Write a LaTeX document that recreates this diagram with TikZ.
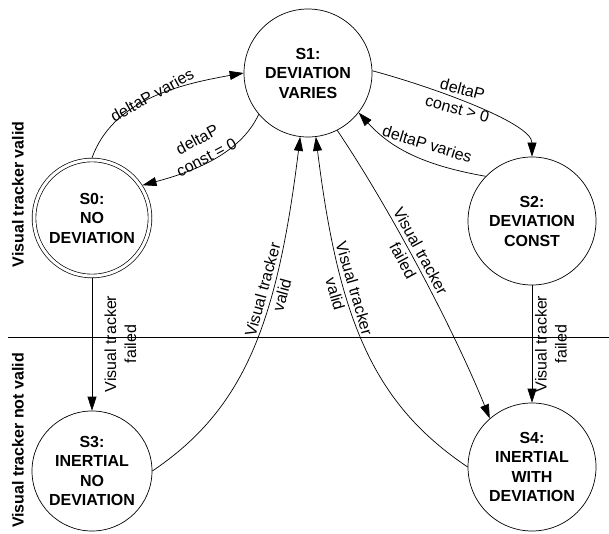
\documentclass[tikz,border=0pt]{standalone}
\usepackage{fontspec}
\setmainfont{Liberation Sans}
\usetikzlibrary{arrows.meta}
\begin{document}
\begin{tikzpicture}[x=1pt,y=1pt,
  state/.style={circle, draw, line width=0.7pt, minimum size=128pt, inner sep=0pt, align=center,
    font=\bfseries\fontsize{16}{19.5}\selectfont},
  lab/.style={align=center, inner sep=0pt, font=\fontsize{16}{20}\selectfont},
  side/.style={inner sep=0pt, font=\bfseries\fontsize{16}{19}\selectfont},
  arr/.style={-{Triangle[length=14pt,width=9pt]}, line width=0.7pt}]
\useasboundingbox (0,0) rectangle (609,533);
% states
\node[state] (S1) at (308,460) {S1:\\DEVIATION\\VARIES};
\node[state, minimum size=116pt, double, double distance=3pt, outer sep=2.2pt] (S0) at (92,315) {S0:\\NO\\DEVIATION};
\node[state] (S2) at (532,312) {S2:\\DEVIATION\\CONST};
\node[state, minimum size=120pt] (S3) at (92,62) {S3:\\INERTIAL\\NO\\DEVIATION};
\node[state] (S4) at (532,66) {S4:\\INERTIAL\\WITH\\DEVIATION};
% separator
\coordinate (hl) at (8,196);
\coordinate (hr) at (609,196);
\draw[line width=0.7pt] (hl) -- (hr);
% transitions
\draw[arr] (S0.north) .. controls +(70:60) and +(190:70) .. (S1.180);
\draw[arr] (S1.220) .. controls +(245:45) and +(15:50) .. (S0.33);
\draw[arr] (S1.2) .. controls +(-15:60) and +(90:34) .. (S2.north);
\draw[arr] (S2.136) .. controls +(170:60) and +(-48:50) .. (S1.-38);
\draw[arr] (S0) -- (S3);
\draw[arr] (S3.east) .. controls +(34:110) and +(263:190) ..
  node[lab, sloped, pos=0.67] (l6) {Visual tracker\\valid} (S1.263);
\draw[arr] (S4.west) .. controls +(146:110) and +(277:190) ..
  node[lab, sloped, pos=0.67] (l7) {Visual tracker\\valid} (S1.277);
\draw[arr] (S1.-63) .. controls +(-56:95) and +(112:95) ..
  node[lab, sloped, pos=0.45] (l8) {Visual tracker\\failed} (S4.131);
\draw[arr] (S2) -- (S4);
% labels
\node[lab, rotate=29] (l1) at (152,438) {deltaP varies};
\node[lab, rotate=28] (l2) at (201.7,384.7) {deltaP\\const = 0};
\node[lab, rotate=-15] (l3) at (460,434) {deltaP\\const > 0};
\node[lab, rotate=-17] (l4) at (427.3,389) {deltaP varies};
\node[lab, rotate=90] (l5) at (120.3,189) {Visual tracker\\failed};
\node[lab, rotate=90] (l9) at (551,189) {Visual tracker\\failed};
\node[side, rotate=90] (v1) at (18,338.5) {Visual tracker valid};
\node[side, rotate=90] (v2) at (18,92.5) {Visual tracker not valid};
\end{tikzpicture}
\end{document}
